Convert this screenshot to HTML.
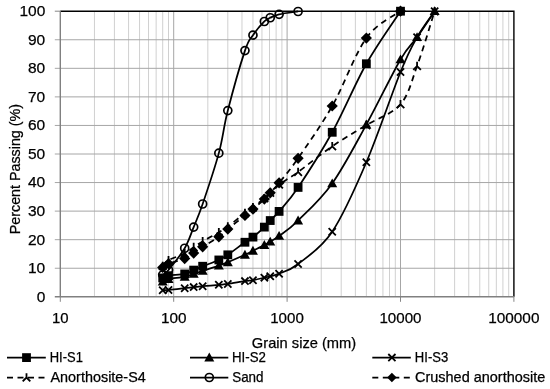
<!DOCTYPE html><html><head><meta charset="utf-8"><style>html,body{margin:0;padding:0;background:#fff;}svg{display:block;will-change:transform;}text{font-family:"Liberation Sans",sans-serif;fill:#000;stroke:#000;stroke-width:0.25px;}</style></head><body>
<svg width="550" height="389" viewBox="0 0 550 389">
<rect x="0" y="0" width="550" height="389" fill="#fff"/>
<path d="M94.44,11.20V296.80 M114.41,11.20V296.80 M128.57,11.20V296.80 M139.56,11.20V296.80 M148.54,11.20V296.80 M156.13,11.20V296.80 M162.71,11.20V296.80 M168.51,11.20V296.80 M207.84,11.20V296.80 M227.81,11.20V296.80 M241.97,11.20V296.80 M252.96,11.20V296.80 M261.94,11.20V296.80 M269.53,11.20V296.80 M276.11,11.20V296.80 M281.91,11.20V296.80 M321.24,11.20V296.80 M341.21,11.20V296.80 M355.37,11.20V296.80 M366.36,11.20V296.80 M375.34,11.20V296.80 M382.93,11.20V296.80 M389.51,11.20V296.80 M395.31,11.20V296.80 M434.64,11.20V296.80 M454.61,11.20V296.80 M468.77,11.20V296.80 M479.76,11.20V296.80 M488.74,11.20V296.80 M496.33,11.20V296.80 M502.91,11.20V296.80 M508.71,11.20V296.80" stroke="#d0d0d0" stroke-width="1" fill="none"/>
<path d="M173.70,11.20V296.80 M287.10,11.20V296.80 M400.50,11.20V296.80" stroke="#a6a6a6" stroke-width="1" fill="none"/>
<path d="M54.80,268.24H513.90 M54.80,239.68H513.90 M54.80,211.12H513.90 M54.80,182.56H513.90 M54.80,154.00H513.90 M54.80,125.44H513.90 M54.80,96.88H513.90 M54.80,68.32H513.90 M54.80,39.76H513.90" stroke="#a6a6a6" stroke-width="1" fill="none"/>
<path d="M60.30,11.20H513.90V296.80" stroke="#000" stroke-width="1.4" fill="none"/>
<path d="M54.8,11.20H60.30 M60.30,296.80V301.80 M173.70,296.80V301.80 M287.10,296.80V301.80 M400.50,296.80V301.80 M513.90,296.80V301.80" stroke="#868686" stroke-width="1" fill="none"/>
<path d="M60.30,11.20V297.50 M54.8,296.80H513.90" stroke="#808080" stroke-width="1.4" fill="none"/>
<path d="M162.71,274.81 C163.68,274.00 164.85,274.38 168.51,269.95 C172.17,265.53 180.50,255.39 184.69,248.25 C188.88,241.11 190.68,234.49 193.67,227.11 C196.66,219.74 198.45,216.31 202.65,203.98 C206.84,191.65 214.63,168.71 218.83,153.14 C223.02,137.58 223.45,127.68 227.81,110.59 C232.16,93.50 240.77,63.18 244.96,50.61 C249.15,38.05 249.73,40.05 252.96,35.19 C256.19,30.34 261.47,24.39 264.35,21.48 C267.22,18.58 267.77,18.96 270.23,17.77 C272.69,16.58 274.45,15.39 279.10,14.34 C283.74,13.29 294.92,11.96 298.09,11.49" stroke="#000" stroke-width="1.75" fill="none"/>
<path d="M162.71,290.23 C163.68,290.18 164.85,290.28 168.51,289.95 C172.17,289.61 180.50,288.71 184.69,288.23 C188.88,287.76 190.68,287.42 193.67,287.09 C196.66,286.76 198.45,286.61 202.65,286.23 C206.84,285.85 214.63,285.19 218.83,284.80 C223.02,284.42 223.45,284.57 227.81,283.95 C232.16,283.33 240.77,281.71 244.96,281.09 C249.15,280.47 249.73,280.81 252.96,280.24 C256.19,279.66 261.47,278.33 264.35,277.66 C267.22,277.00 267.77,276.90 270.23,276.24 C272.69,275.57 274.45,275.71 279.10,273.67 C283.74,271.62 289.23,270.95 298.09,263.96 C306.94,256.96 320.85,248.63 332.23,231.68 C343.61,214.74 354.98,188.89 366.36,162.28 C377.74,135.67 392.05,92.88 400.50,72.03 C408.95,51.18 411.38,47.33 417.07,37.19 C422.76,27.05 431.71,15.53 434.64,11.20" stroke="#000" stroke-width="1.75" fill="none"/>
<path d="M162.71,281.66 C163.68,281.23 164.85,279.90 168.51,279.09 C172.17,278.28 180.50,277.66 184.69,276.81 C188.88,275.95 190.68,274.95 193.67,273.95 C196.66,272.95 198.45,272.19 202.65,270.81 C206.84,269.43 214.63,267.10 218.83,265.67 C223.02,264.24 223.45,264.05 227.81,262.24 C232.16,260.43 240.77,256.72 244.96,254.82 C249.15,252.91 249.73,252.44 252.96,250.82 C256.19,249.20 261.47,246.63 264.35,245.11 C267.22,243.58 267.77,243.20 270.23,241.68 C272.69,240.16 274.45,239.49 279.10,235.97 C283.74,232.44 289.23,229.30 298.09,220.54 C306.94,211.79 320.85,199.41 332.23,183.42 C343.61,167.42 354.98,145.24 366.36,124.58 C377.74,103.92 392.05,74.03 400.50,59.47 C408.95,44.90 411.38,45.23 417.07,37.19 C422.76,29.15 431.71,15.53 434.64,11.20" stroke="#000" stroke-width="1.75" fill="none"/>
<path d="M162.71,277.95 C163.68,277.57 164.85,276.33 168.51,275.67 C172.17,275.00 180.50,274.88 184.69,273.95 C188.88,273.02 190.68,271.38 193.67,270.10 C196.66,268.81 198.45,267.93 202.65,266.24 C206.84,264.55 214.63,261.86 218.83,259.96 C223.02,258.05 223.45,257.77 227.81,254.82 C232.16,251.87 240.77,245.20 244.96,242.25 C249.15,239.30 249.73,239.63 252.96,237.11 C256.19,234.59 261.47,229.87 264.35,227.11 C267.22,224.35 267.77,223.16 270.23,220.54 C272.69,217.93 274.45,216.93 279.10,211.41 C283.74,205.88 289.23,200.60 298.09,187.42 C306.94,174.23 320.85,152.91 332.23,132.29 C343.61,111.68 354.98,83.93 366.36,63.75 C377.74,43.57 394.81,19.96 400.50,11.20" stroke="#000" stroke-width="1.75" fill="none"/>
<path d="M162.71,265.96 C163.68,265.00 164.85,262.34 168.51,260.24 C172.17,258.15 180.50,255.58 184.69,253.39 C188.88,251.20 190.68,249.10 193.67,247.11 C196.66,245.11 198.45,243.87 202.65,241.39 C206.84,238.92 214.63,234.73 218.83,232.25 C223.02,229.78 223.45,229.73 227.81,226.54 C232.16,223.35 240.77,216.31 244.96,213.12 C249.15,209.93 249.73,209.88 252.96,207.41 C256.19,204.93 261.47,200.70 264.35,198.27 C267.22,195.84 267.77,195.13 270.23,192.84 C272.69,190.56 274.45,188.03 279.10,184.56 C283.74,181.08 289.23,178.37 298.09,171.99 C306.94,165.61 320.85,154.10 332.23,146.29 C343.61,138.48 354.98,132.15 366.36,125.15 C377.74,118.16 392.05,114.16 400.50,104.31 C408.95,94.45 411.38,81.55 417.07,66.04 C422.76,50.52 431.71,20.34 434.64,11.20" stroke="#000" stroke-width="1.75" fill="none" stroke-dasharray="6,4.5"/>
<path d="M162.71,267.38 C163.68,266.76 164.85,265.15 168.51,263.67 C172.17,262.19 180.50,260.29 184.69,258.53 C188.88,256.77 190.68,255.05 193.67,253.10 C196.66,251.15 198.45,249.53 202.65,246.82 C206.84,244.11 214.63,239.78 218.83,236.82 C223.02,233.87 223.45,232.68 227.81,229.11 C232.16,225.54 240.77,218.74 244.96,215.40 C249.15,212.07 249.73,211.83 252.96,209.12 C256.19,206.41 261.47,201.84 264.35,199.12 C267.22,196.41 267.77,195.55 270.23,192.84 C272.69,190.13 274.45,188.61 279.10,182.85 C283.74,177.09 289.23,171.09 298.09,158.28 C306.94,145.48 320.85,126.06 332.23,106.02 C343.61,85.98 354.98,53.85 366.36,38.05 C377.74,22.24 394.81,15.67 400.50,11.20" stroke="#000" stroke-width="1.75" fill="none" stroke-dasharray="6,4.5"/>
<circle cx="162.71" cy="274.81" r="4.0" fill="none" stroke="#000" stroke-width="1.7"/>
<circle cx="168.51" cy="269.95" r="4.0" fill="none" stroke="#000" stroke-width="1.7"/>
<circle cx="184.69" cy="248.25" r="4.0" fill="none" stroke="#000" stroke-width="1.7"/>
<circle cx="193.67" cy="227.11" r="4.0" fill="none" stroke="#000" stroke-width="1.7"/>
<circle cx="202.65" cy="203.98" r="4.0" fill="none" stroke="#000" stroke-width="1.7"/>
<circle cx="218.83" cy="153.14" r="4.0" fill="none" stroke="#000" stroke-width="1.7"/>
<circle cx="227.81" cy="110.59" r="4.0" fill="none" stroke="#000" stroke-width="1.7"/>
<circle cx="244.96" cy="50.61" r="4.0" fill="none" stroke="#000" stroke-width="1.7"/>
<circle cx="252.96" cy="35.19" r="4.0" fill="none" stroke="#000" stroke-width="1.7"/>
<circle cx="264.35" cy="21.48" r="4.0" fill="none" stroke="#000" stroke-width="1.7"/>
<circle cx="270.23" cy="17.77" r="4.0" fill="none" stroke="#000" stroke-width="1.7"/>
<circle cx="279.10" cy="14.34" r="4.0" fill="none" stroke="#000" stroke-width="1.7"/>
<circle cx="298.09" cy="11.49" r="4.0" fill="none" stroke="#000" stroke-width="1.7"/>
<path d="M159.11,286.63 L166.31,293.83 M159.11,293.83 L166.31,286.63" stroke="#000" stroke-width="1.8" fill="none"/>
<path d="M164.91,286.35 L172.11,293.55 M164.91,293.55 L172.11,286.35" stroke="#000" stroke-width="1.8" fill="none"/>
<path d="M181.09,284.63 L188.29,291.83 M181.09,291.83 L188.29,284.63" stroke="#000" stroke-width="1.8" fill="none"/>
<path d="M190.07,283.49 L197.27,290.69 M190.07,290.69 L197.27,283.49" stroke="#000" stroke-width="1.8" fill="none"/>
<path d="M199.05,282.63 L206.25,289.83 M199.05,289.83 L206.25,282.63" stroke="#000" stroke-width="1.8" fill="none"/>
<path d="M215.23,281.20 L222.43,288.40 M215.23,288.40 L222.43,281.20" stroke="#000" stroke-width="1.8" fill="none"/>
<path d="M224.21,280.35 L231.41,287.55 M224.21,287.55 L231.41,280.35" stroke="#000" stroke-width="1.8" fill="none"/>
<path d="M241.36,277.49 L248.56,284.69 M241.36,284.69 L248.56,277.49" stroke="#000" stroke-width="1.8" fill="none"/>
<path d="M249.36,276.64 L256.56,283.84 M249.36,283.84 L256.56,276.64" stroke="#000" stroke-width="1.8" fill="none"/>
<path d="M260.75,274.06 L267.95,281.26 M260.75,281.26 L267.95,274.06" stroke="#000" stroke-width="1.8" fill="none"/>
<path d="M266.63,272.64 L273.83,279.84 M266.63,279.84 L273.83,272.64" stroke="#000" stroke-width="1.8" fill="none"/>
<path d="M275.50,270.07 L282.70,277.27 M275.50,277.27 L282.70,270.07" stroke="#000" stroke-width="1.8" fill="none"/>
<path d="M294.49,260.36 L301.69,267.56 M294.49,267.56 L301.69,260.36" stroke="#000" stroke-width="1.8" fill="none"/>
<path d="M328.63,228.08 L335.83,235.28 M328.63,235.28 L335.83,228.08" stroke="#000" stroke-width="1.8" fill="none"/>
<path d="M362.76,158.68 L369.96,165.88 M362.76,165.88 L369.96,158.68" stroke="#000" stroke-width="1.8" fill="none"/>
<path d="M396.90,68.43 L404.10,75.63 M396.90,75.63 L404.10,68.43" stroke="#000" stroke-width="1.8" fill="none"/>
<path d="M413.47,33.59 L420.67,40.79 M413.47,40.79 L420.67,33.59" stroke="#000" stroke-width="1.8" fill="none"/>
<path d="M431.04,7.60 L438.24,14.80 M431.04,14.80 L438.24,7.60" stroke="#000" stroke-width="1.8" fill="none"/>
<path d="M162.71,276.66 L167.71,285.56 L157.71,285.56 Z" fill="#000"/>
<path d="M168.51,274.09 L173.51,282.99 L163.51,282.99 Z" fill="#000"/>
<path d="M184.69,271.81 L189.69,280.71 L179.69,280.71 Z" fill="#000"/>
<path d="M193.67,268.95 L198.67,277.85 L188.67,277.85 Z" fill="#000"/>
<path d="M202.65,265.81 L207.65,274.71 L197.65,274.71 Z" fill="#000"/>
<path d="M218.83,260.67 L223.83,269.57 L213.83,269.57 Z" fill="#000"/>
<path d="M227.81,257.24 L232.81,266.14 L222.81,266.14 Z" fill="#000"/>
<path d="M244.96,249.82 L249.96,258.72 L239.96,258.72 Z" fill="#000"/>
<path d="M252.96,245.82 L257.96,254.72 L247.96,254.72 Z" fill="#000"/>
<path d="M264.35,240.11 L269.35,249.01 L259.35,249.01 Z" fill="#000"/>
<path d="M270.23,236.68 L275.23,245.58 L265.23,245.58 Z" fill="#000"/>
<path d="M279.10,230.97 L284.10,239.87 L274.10,239.87 Z" fill="#000"/>
<path d="M298.09,215.54 L303.09,224.44 L293.09,224.44 Z" fill="#000"/>
<path d="M332.23,178.42 L337.23,187.32 L327.23,187.32 Z" fill="#000"/>
<path d="M366.36,119.58 L371.36,128.48 L361.36,128.48 Z" fill="#000"/>
<path d="M400.50,54.47 L405.50,63.37 L395.50,63.37 Z" fill="#000"/>
<path d="M417.07,32.19 L422.07,41.09 L412.07,41.09 Z" fill="#000"/>
<path d="M434.64,6.20 L439.64,15.10 L429.64,15.10 Z" fill="#000"/>
<rect x="158.31" y="273.55" width="8.80" height="8.80" fill="#000"/>
<rect x="164.11" y="271.27" width="8.80" height="8.80" fill="#000"/>
<rect x="180.29" y="269.55" width="8.80" height="8.80" fill="#000"/>
<rect x="189.27" y="265.70" width="8.80" height="8.80" fill="#000"/>
<rect x="198.25" y="261.84" width="8.80" height="8.80" fill="#000"/>
<rect x="214.43" y="255.56" width="8.80" height="8.80" fill="#000"/>
<rect x="223.41" y="250.42" width="8.80" height="8.80" fill="#000"/>
<rect x="240.56" y="237.85" width="8.80" height="8.80" fill="#000"/>
<rect x="248.56" y="232.71" width="8.80" height="8.80" fill="#000"/>
<rect x="259.95" y="222.71" width="8.80" height="8.80" fill="#000"/>
<rect x="265.83" y="216.14" width="8.80" height="8.80" fill="#000"/>
<rect x="274.70" y="207.01" width="8.80" height="8.80" fill="#000"/>
<rect x="293.69" y="183.02" width="8.80" height="8.80" fill="#000"/>
<rect x="327.83" y="127.89" width="8.80" height="8.80" fill="#000"/>
<rect x="361.96" y="59.35" width="8.80" height="8.80" fill="#000"/>
<rect x="396.10" y="6.80" width="8.80" height="8.80" fill="#000"/>
<path d="M162.71,265.96 L162.71,261.66 M162.71,265.96 L158.91,269.86 M162.71,265.96 L166.51,269.86" stroke="#000" stroke-width="1.8" fill="none"/>
<path d="M168.51,260.24 L168.51,255.94 M168.51,260.24 L164.71,264.14 M168.51,260.24 L172.31,264.14" stroke="#000" stroke-width="1.8" fill="none"/>
<path d="M184.69,253.39 L184.69,249.09 M184.69,253.39 L180.89,257.29 M184.69,253.39 L188.49,257.29" stroke="#000" stroke-width="1.8" fill="none"/>
<path d="M193.67,247.11 L193.67,242.81 M193.67,247.11 L189.87,251.01 M193.67,247.11 L197.47,251.01" stroke="#000" stroke-width="1.8" fill="none"/>
<path d="M202.65,241.39 L202.65,237.09 M202.65,241.39 L198.85,245.29 M202.65,241.39 L206.45,245.29" stroke="#000" stroke-width="1.8" fill="none"/>
<path d="M218.83,232.25 L218.83,227.95 M218.83,232.25 L215.03,236.15 M218.83,232.25 L222.63,236.15" stroke="#000" stroke-width="1.8" fill="none"/>
<path d="M227.81,226.54 L227.81,222.24 M227.81,226.54 L224.01,230.44 M227.81,226.54 L231.61,230.44" stroke="#000" stroke-width="1.8" fill="none"/>
<path d="M244.96,213.12 L244.96,208.82 M244.96,213.12 L241.16,217.02 M244.96,213.12 L248.76,217.02" stroke="#000" stroke-width="1.8" fill="none"/>
<path d="M252.96,207.41 L252.96,203.11 M252.96,207.41 L249.16,211.31 M252.96,207.41 L256.76,211.31" stroke="#000" stroke-width="1.8" fill="none"/>
<path d="M264.35,198.27 L264.35,193.97 M264.35,198.27 L260.55,202.17 M264.35,198.27 L268.15,202.17" stroke="#000" stroke-width="1.8" fill="none"/>
<path d="M270.23,192.84 L270.23,188.54 M270.23,192.84 L266.43,196.74 M270.23,192.84 L274.03,196.74" stroke="#000" stroke-width="1.8" fill="none"/>
<path d="M279.10,184.56 L279.10,180.26 M279.10,184.56 L275.30,188.46 M279.10,184.56 L282.90,188.46" stroke="#000" stroke-width="1.8" fill="none"/>
<path d="M298.09,171.99 L298.09,167.69 M298.09,171.99 L294.29,175.89 M298.09,171.99 L301.89,175.89" stroke="#000" stroke-width="1.8" fill="none"/>
<path d="M332.23,146.29 L332.23,141.99 M332.23,146.29 L328.43,150.19 M332.23,146.29 L336.03,150.19" stroke="#000" stroke-width="1.8" fill="none"/>
<path d="M366.36,125.15 L366.36,120.85 M366.36,125.15 L362.56,129.05 M366.36,125.15 L370.16,129.05" stroke="#000" stroke-width="1.8" fill="none"/>
<path d="M400.50,104.31 L400.50,100.01 M400.50,104.31 L396.70,108.21 M400.50,104.31 L404.30,108.21" stroke="#000" stroke-width="1.8" fill="none"/>
<path d="M417.07,66.04 L417.07,61.74 M417.07,66.04 L413.27,69.94 M417.07,66.04 L420.87,69.94" stroke="#000" stroke-width="1.8" fill="none"/>
<path d="M434.64,11.20 L434.64,6.90 M434.64,11.20 L430.84,15.10 M434.64,11.20 L438.44,15.10" stroke="#000" stroke-width="1.8" fill="none"/>
<path d="M162.71,261.78 L168.31,267.38 L162.71,272.98 L157.11,267.38 Z" fill="#000"/>
<path d="M168.51,258.07 L174.11,263.67 L168.51,269.27 L162.91,263.67 Z" fill="#000"/>
<path d="M184.69,252.93 L190.29,258.53 L184.69,264.13 L179.09,258.53 Z" fill="#000"/>
<path d="M193.67,247.50 L199.27,253.10 L193.67,258.70 L188.07,253.10 Z" fill="#000"/>
<path d="M202.65,241.22 L208.25,246.82 L202.65,252.42 L197.05,246.82 Z" fill="#000"/>
<path d="M218.83,231.22 L224.43,236.82 L218.83,242.42 L213.23,236.82 Z" fill="#000"/>
<path d="M227.81,223.51 L233.41,229.11 L227.81,234.71 L222.21,229.11 Z" fill="#000"/>
<path d="M244.96,209.80 L250.56,215.40 L244.96,221.00 L239.36,215.40 Z" fill="#000"/>
<path d="M252.96,203.52 L258.56,209.12 L252.96,214.72 L247.36,209.12 Z" fill="#000"/>
<path d="M264.35,193.52 L269.95,199.12 L264.35,204.72 L258.75,199.12 Z" fill="#000"/>
<path d="M270.23,187.24 L275.83,192.84 L270.23,198.44 L264.63,192.84 Z" fill="#000"/>
<path d="M279.10,177.25 L284.70,182.85 L279.10,188.45 L273.50,182.85 Z" fill="#000"/>
<path d="M298.09,152.68 L303.69,158.28 L298.09,163.88 L292.49,158.28 Z" fill="#000"/>
<path d="M332.23,100.42 L337.83,106.02 L332.23,111.62 L326.63,106.02 Z" fill="#000"/>
<path d="M366.36,32.45 L371.96,38.05 L366.36,43.65 L360.76,38.05 Z" fill="#000"/>
<path d="M400.50,5.60 L406.10,11.20 L400.50,16.80 L394.90,11.20 Z" fill="#000"/>
<text x="36.65" y="301.70" font-size="15.5" textLength="8.62" lengthAdjust="spacingAndGlyphs">0</text>
<text x="27.90" y="273.14" font-size="15.5" textLength="17.25" lengthAdjust="spacingAndGlyphs">10</text>
<text x="27.90" y="244.58" font-size="15.5" textLength="17.25" lengthAdjust="spacingAndGlyphs">20</text>
<text x="27.90" y="216.02" font-size="15.5" textLength="17.25" lengthAdjust="spacingAndGlyphs">30</text>
<text x="27.90" y="187.46" font-size="15.5" textLength="17.25" lengthAdjust="spacingAndGlyphs">40</text>
<text x="27.90" y="158.90" font-size="15.5" textLength="17.25" lengthAdjust="spacingAndGlyphs">50</text>
<text x="27.90" y="130.34" font-size="15.5" textLength="17.25" lengthAdjust="spacingAndGlyphs">60</text>
<text x="27.90" y="101.78" font-size="15.5" textLength="17.25" lengthAdjust="spacingAndGlyphs">70</text>
<text x="27.90" y="73.22" font-size="15.5" textLength="17.25" lengthAdjust="spacingAndGlyphs">80</text>
<text x="27.90" y="44.66" font-size="15.5" textLength="17.25" lengthAdjust="spacingAndGlyphs">90</text>
<text x="19.40" y="16.10" font-size="15.5" textLength="25.88" lengthAdjust="spacingAndGlyphs">100</text>
<text x="51.95" y="322.90" font-size="15.5" textLength="16.58" lengthAdjust="spacingAndGlyphs">10</text>
<text x="160.92" y="322.90" font-size="15.5" textLength="25.55" lengthAdjust="spacingAndGlyphs">100</text>
<text x="270.23" y="322.90" font-size="15.5" textLength="33.59" lengthAdjust="spacingAndGlyphs">1000</text>
<text x="379.48" y="322.90" font-size="15.5" textLength="42.01" lengthAdjust="spacingAndGlyphs">10000</text>
<text x="488.21" y="322.90" font-size="15.5" textLength="51.22" lengthAdjust="spacingAndGlyphs">100000</text>
<text x="251.87" y="347.50" font-size="15" textLength="104.34" lengthAdjust="spacingAndGlyphs">Grain size (mm)</text>
<text transform="translate(20.10,234.22) rotate(-90)" x="0" y="0" font-size="14.7" textLength="130.17" lengthAdjust="spacingAndGlyphs">Percent Passing (%)</text>
<text x="49.76" y="361.70" font-size="14.2" textLength="33.14" lengthAdjust="spacingAndGlyphs">HI-S1</text>
<text x="50.50" y="381.50" font-size="14.2" textLength="95.26" lengthAdjust="spacingAndGlyphs">Anorthosite-S4</text>
<text x="232.03" y="361.70" font-size="14.2" textLength="33.88" lengthAdjust="spacingAndGlyphs">HI-S2</text>
<text x="232.19" y="381.50" font-size="14.2" textLength="31.35" lengthAdjust="spacingAndGlyphs">Sand</text>
<text x="414.85" y="361.70" font-size="14.2" textLength="33.32" lengthAdjust="spacingAndGlyphs">HI-S3</text>
<text x="415.04" y="381.50" font-size="14.2" textLength="130.29" lengthAdjust="spacingAndGlyphs">Crushed anorthosite</text>
<path d="M7.00,357.60H45.80" stroke="#000" stroke-width="1.75" fill="none"/>
<rect x="22.10" y="353.20" width="8.80" height="8.80" fill="#000"/>
<path d="M190.00,357.60H228.30" stroke="#000" stroke-width="1.75" fill="none"/>
<path d="M209.30,352.60 L214.30,361.50 L204.30,361.50 Z" fill="#000"/>
<path d="M372.30,357.60H410.80" stroke="#000" stroke-width="1.75" fill="none"/>
<path d="M388.30,354.00 L395.50,361.20 M388.30,361.20 L395.50,354.00" stroke="#000" stroke-width="1.8" fill="none"/>
<path d="M7.00,377.50H45.80" stroke="#000" stroke-width="1.75" fill="none" stroke-dasharray="6,4.5"/>
<path d="M26.50,377.50 L26.50,373.20 M26.50,377.50 L22.70,381.40 M26.50,377.50 L30.30,381.40" stroke="#000" stroke-width="1.8" fill="none"/>
<path d="M190.00,377.50H228.30" stroke="#000" stroke-width="1.75" fill="none"/>
<circle cx="209.30" cy="377.50" r="4.0" fill="none" stroke="#000" stroke-width="1.7"/>
<path d="M372.30,377.50H410.80" stroke="#000" stroke-width="1.75" fill="none" stroke-dasharray="6,4.5"/>
<path d="M391.90,372.75 L396.65,377.50 L391.90,382.25 L387.15,377.50 Z" fill="#000"/>
</svg></body></html>
